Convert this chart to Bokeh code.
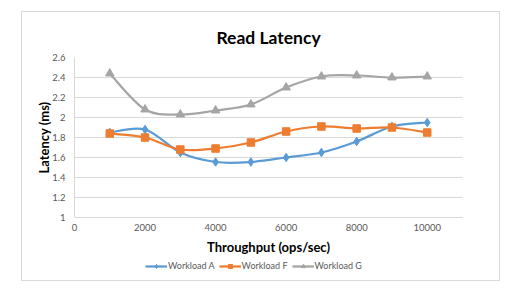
from bokeh.plotting import figure
from bokeh.layouts import column
from bokeh.models import (Range1d, FixedTicker, CustomJSTickFormatter, Legend, LegendItem, Title)
from bokeh.embed import file_html
from bokeh.resources import INLINE

throughput = [1000, 2000, 3000, 4000, 5000, 6000, 7000, 8000, 9000, 10000]
workload_a = [1.85, 1.88, 1.65, 1.555, 1.555, 1.60, 1.65, 1.76, 1.91, 1.95]
workload_f = [1.84, 1.80, 1.68, 1.69, 1.75, 1.86, 1.91, 1.89, 1.90, 1.85]
workload_g = [2.44, 2.08, 2.03, 2.07, 2.13, 2.30, 2.41, 2.42, 2.40, 2.41]
series_names = ["Workload A", "Workload F", "Workload G"]
x_ticks = [0, 2000, 4000, 6000, 8000, 10000]
y_ticks = [1.0, 1.2, 1.4, 1.6, 1.8, 2.0, 2.2, 2.4, 2.6]

colors = ["#5B9BD5", "#ED7D31", "#A5A5A5"]
markers = ["diamond", "square", "triangle"]
msizes = [8.5, 7.5, 8.5]
FONT = "Lato"

p = figure(width=477, height=248, output_backend="svg", toolbar_location=None,
           x_range=Range1d(0, 11000), y_range=Range1d(1, 2.6),
           title=None, min_border_left=52, min_border_right=37,
           min_border_top=45, min_border_bottom=43)
p.outline_line_color = None
p.background_fill_color = "white"
p.border_fill_color = "white"

def bezier_controls(xs, ys):
    n = len(xs)
    out = dict(x0=[], y0=[], x1=[], y1=[], cx0=[], cy0=[], cx1=[], cy1=[])
    for i in range(n - 1):
        i0 = max(i - 1, 0)
        i3 = min(i + 2, n - 1)
        out["x0"].append(xs[i]); out["y0"].append(ys[i])
        out["x1"].append(xs[i + 1]); out["y1"].append(ys[i + 1])
        out["cx0"].append(xs[i] + (xs[i + 1] - xs[i0]) / 6)
        out["cy0"].append(ys[i] + (ys[i + 1] - ys[i0]) / 6)
        out["cx1"].append(xs[i + 1] - (xs[i3] - xs[i]) / 6)
        out["cy1"].append(ys[i + 1] - (ys[i3] - ys[i]) / 6)
    return out

# legend strip (separate small figure below the chart)
lf = figure(width=477, height=20, output_backend="svg", toolbar_location=None,
            x_range=Range1d(0, 1), y_range=Range1d(0, 1), x_axis_type=None, y_axis_type=None,
            min_border_left=0, min_border_right=0, min_border_top=0, min_border_bottom=0)
lf.outline_line_color = None
lf.xgrid.visible = False
lf.ygrid.visible = False
lf.border_fill_color = "white"

items = []
for ys, name, c, m, s in zip([workload_a, workload_f, workload_g], series_names, colors, markers, msizes):
    p.bezier(line_color=c, line_width=2.25, **bezier_controls(throughput, ys))
    p.scatter(throughput, ys, marker=m, size=s, fill_color=c, line_color=c)
    l_line = lf.line(throughput, ys, line_color=c, line_width=2.25, visible=False)
    l_sc = lf.scatter(throughput, ys, marker=m, size=s - 1, fill_color=c, line_color=c, visible=False)
    items.append(LegendItem(label=name, renderers=[l_line, l_sc]))

# axes
p.xaxis.ticker = FixedTicker(ticks=x_ticks)
p.yaxis.ticker = FixedTicker(ticks=y_ticks)
p.yaxis.formatter = CustomJSTickFormatter(code="return tick.toFixed(1).replace(/\\.0$/, '');")
for ax in (p.xaxis, p.yaxis):
    ax.axis_line_color = "#d9d9d9"
    ax.major_tick_line_color = None
    ax.minor_tick_line_color = None
    ax.major_tick_out = 0
    ax.major_tick_in = 0
    ax.minor_tick_out = 0
    ax.major_label_text_font = FONT
    ax.major_label_text_font_size = "9.5px"
    ax.major_label_text_color = "#595959"
    ax.axis_label_text_font = FONT
    ax.axis_label_text_font_style = "bold"
    ax.axis_label_text_font_size = "13px"
    ax.axis_label_text_color = "#000000"
p.xaxis.axis_label = "Throughput (ops/sec)"
p.yaxis.axis_label = "Latency (ms)"
p.xaxis.major_label_standoff = 6
p.yaxis.major_label_standoff = 9
p.xaxis.axis_label_standoff = 5
p.yaxis.axis_label_standoff = -3

p.xgrid.grid_line_color = None
p.ygrid.grid_line_color = "#d9d9d9"

t = Title(text="Read Latency", align="center", text_font=FONT, text_font_size="17.5px",
          text_font_style="bold", text_color="#000000", offset=0, standoff=20)
p.add_layout(t, "above")

legend = Legend(items=items, orientation="horizontal", location=(71, 9),
                label_text_font=FONT, label_text_font_size="9px", label_text_color="#595959",
                glyph_width=22, glyph_height=10, label_height=10, label_standoff=1, spacing=4,
                padding=0, margin=0, border_line_color=None, background_fill_alpha=0)
lf.add_layout(legend, "center")

layout = column(p, lf, spacing=0)
layout.margin = (11, 0, 0, 21)
layout.styles = {"border": "1px solid #d9d9d9"}

open("out.html", "w").write(file_html(layout, INLINE))
